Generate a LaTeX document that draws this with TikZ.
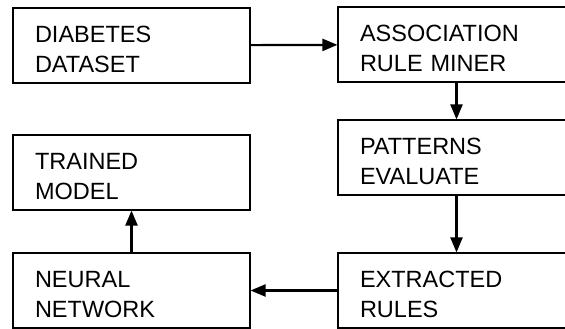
\documentclass[tikz,border=0pt]{standalone}
\usepackage{fontspec}
\setmainfont{Liberation Sans}
\usetikzlibrary{arrows.meta}

\begin{document}
\begin{tikzpicture}[
      x=1pt, y=-1pt,
      every node/.style={rectangle, draw, line width=1.1pt, text width=193pt, inner xsep=22pt, inner ysep=0pt,
                         minimum height=75pt, align=left, text height=24pt,
                         font=\fontsize{23.5}{30}\selectfont},
      flow/.style={-{Triangle[length=15pt, width=12pt]}, line width=2.2pt}
    ]
      \useasboundingbox (0,0) rectangle (565,329);

      \node (dataset) at (131.5,45.5) {DIABETES\\DATASET};
      \node (miner) at (456.5,44.5) {ASSOCIATION\\RULE MINER};
      \node (patterns) at (456.5,157.5) {PATTERNS\\EVALUATE};
      \node (rules) at (456.5,290.5) {EXTRACTED\\RULES};
      \node (network) at (131.5,290.5) {NEURAL\\NETWORK};
      \node (model) at (131.5,172.5) {TRAINED\\MODEL};

      \draw[flow] (dataset) -- (miner);
      \draw[flow] (miner) -- (patterns);
      \draw[flow] (patterns) -- (rules);
      \draw[flow] (rules) -- (network);
      \draw[flow] (network) -- (model);

    \end{tikzpicture}
\end{document}
